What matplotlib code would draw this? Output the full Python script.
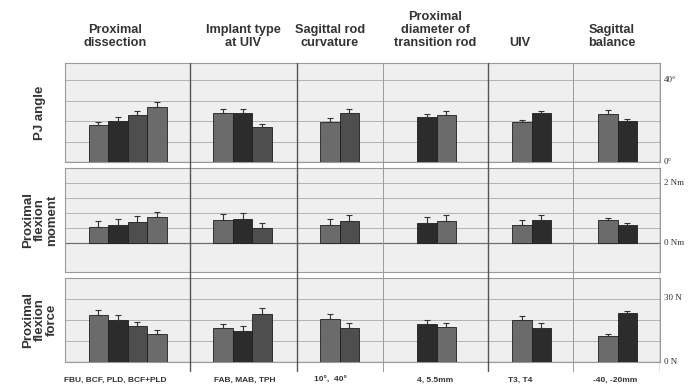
import numpy as np
import matplotlib.pyplot as plt

plt.rcParams['font.family'] = ['Liberation Sans', 'DejaVu Sans']

# column headings and bottom category labels
groups = ["Proximal\ndissection", "Implant type\nat UIV", "Sagittal rod\ncurvature",
          "Proximal\ndiameter of\ntransition rod", "UIV", "Sagittal\nbalance"]
cats = ["FBU, BCF, PLD, BCF+PLD", "FAB, MAB, TPH", "10°,  40°", "4, 5.5mm", "T3, T4", "-40, -20mm"]

# values
pj_angle = [[18, 20, 23, 27], [24, 24, 17], [19.5, 24], [22, 23], [19.5, 24], [23.5, 20]]
pj_err = [[1.5, 2, 2, 2.5], [2, 2, 1.5], [2, 2], [1.5, 2], [1, 1], [2, 1]]
moment = [[0.53, 0.6, 0.7, 0.87], [0.77, 0.8, 0.5], [0.6, 0.73], [0.67, 0.73], [0.6, 0.77], [0.77, 0.6]]
moment_err = [[0.2, 0.2, 0.2, 0.15], [0.2, 0.2, 0.15], [0.2, 0.2], [0.2, 0.2], [0.15, 0.15], [0.05, 0.08]]
force = [[22.4, 20, 17, 13.3], [16, 15, 23], [20.5, 16], [18, 16.7], [20, 16], [12.4, 23.3]]
force_err = [[2.5, 2.5, 2, 2], [2, 2, 2.5], [2.5, 2.5], [2, 2], [2, 2.5], [0.8, 0.8]]

# bar shades per group
med, dark, mid = '#6b6b6b', '#2c2c2c', '#4e4e4e'
shades = [[med, dark, mid, med], [med, dark, mid], [med, mid], [dark, med], [med, dark], [med, dark]]

# layout (pixels)
W, H = 688, 388
centers = [127.5, 242.5, 339.5, 436.5, 531.5, 617.5]
bw = 19.5
seps = [190, 297, 383, 488, 573]
x0, x1 = 65, 660

fig = plt.figure(figsize=(W / 100, H / 100), dpi=100)

def px_axes(left, top, right, bottom):
    return fig.add_axes([left / W, 1 - bottom / H, (right - left) / W, (bottom - top) / H])

panels = [
    (63, 162, pj_angle, pj_err, (0, 48.3), np.arange(0, 41, 10), "PJ angle"),
    (168, 272, moment, moment_err, (-0.97, 2.5), np.arange(0, 2.1, 0.5), "Proximal\nflexion\nmoment"),
    (278, 362, force, force_err, (0, 40), np.arange(0, 31, 10), "Proximal\nflexion\nforce"),
]

for top, bot, vals, errs, ylim, grid, lab in panels:
    ax = px_axes(x0, top, x1, bot)
    ax.set_facecolor('#efefef')
    ax.set_xlim(x0, x1)
    ax.set_ylim(*ylim)
    for g in grid:
        ax.axhline(g, color='#707070' if g == 0 else '#b4b4b4', lw=0.9 if g == 0 else 0.7, zorder=1)
    for c, v, e, s in zip(centers, vals, errs, shades):
        n = len(v)
        xs = c + (np.arange(n) - (n - 1) / 2) * bw
        ax.bar(xs, v, width=bw, color=s, edgecolor='#1e1e1e', lw=0.6, zorder=3)
        ax.errorbar(xs, v, yerr=[np.zeros(n), e], fmt='none', ecolor='#333333',
                    elinewidth=0.8, capsize=2, capthick=0.8, zorder=4)
    ax.set_xticks([])
    ax.set_yticks([])
    for sp in ax.spines.values():
        sp.set_color('#9a9a9a')
        sp.set_linewidth(0.8)
    fig.text(40 / W, 1 - ((top + bot) / 2) / H, lab, rotation=90, ha='center', va='center',
             fontsize=9.5, fontweight='bold', color='#333333', linespacing=1.0)

# overlay for separators and right axis
ov = px_axes(x0, 63, x1, 372)
ov.patch.set_alpha(0)
ov.set_xlim(x0, x1)
ov.set_ylim(1, 0)
for s in seps:
    light = s in (383, 573)
    ov.axvline(s, color='#9a9a9a' if light else '#555555', lw=0.7 if light else 1.0)
ov.axvline(x1, color='#777777', lw=1.0)
ov.axis('off')

# right tick labels
right_labels = [("40°", 80), ("0°", 162), ("2 Nm", 183), ("0 Nm", 243), ("30 N", 298), ("0 N", 362)]
for t, y in right_labels:
    fig.text(664 / W, 1 - y / H, t, ha='left', va='center', fontsize=6.5,
             family=['Liberation Serif', 'DejaVu Serif'], color='#333333')

# column headings
for c, g in zip([115, 243, 330, 435, 520, 612], groups):
    fig.text(c / W, 1 - 49 / H, g, ha='center', va='bottom', fontsize=9.2,
             fontweight='bold', color='#333333', linespacing=1.1)

# bottom category labels
for c, t in zip([115, 245, 330, 435, 520, 615], cats):
    fig.text(c / W, 1 - 380 / H, t, ha='center', va='center', fontsize=6,
             fontweight='bold', color='#333333')

fig.savefig('out.png', dpi=100, facecolor='white')
